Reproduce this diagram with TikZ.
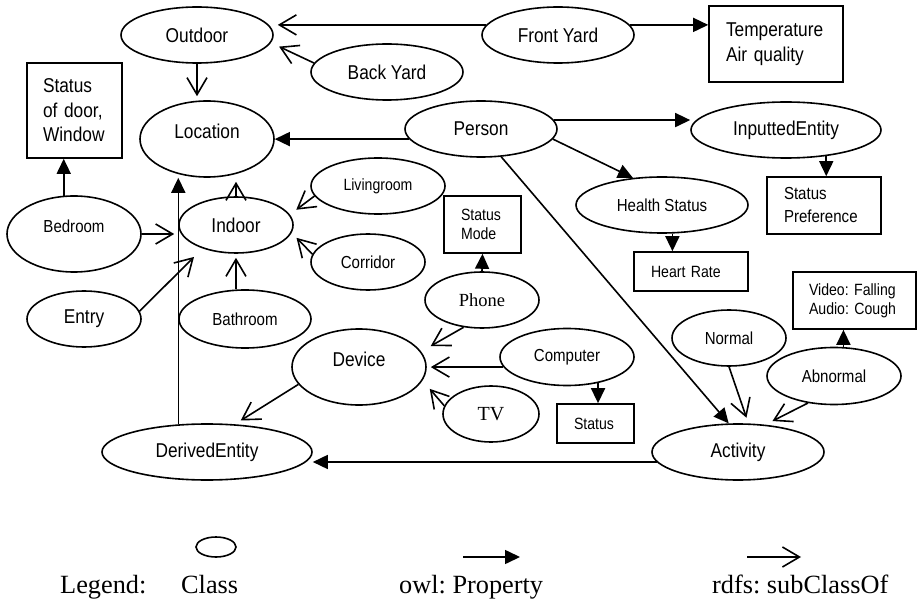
\documentclass[tikz,border=0pt]{standalone}
\usepackage{fontspec}
\setmainfont{Liberation Sans}[FakeStretch=0.865]
\newfontfamily\serf{Liberation Serif}
\usetikzlibrary{shapes.geometric,arrows.meta}

\newcommand\lbig{\fontsize{20}{24.5}\selectfont}
\newcommand\lmid{\fontsize{17.4}{23}\selectfont}
\newcommand\lsml{\fontsize{16.3}{19}\selectfont}

\tikzset{
  cls/.style 2 args={ellipse, draw, line width=1.6pt, inner sep=0pt,
    minimum width=#1pt, minimum height=#2pt, font=\lbig},
  tall/.style={text depth=16pt},
  attr/.style={draw, rectangle, line width=1.6pt, inner xsep=17pt, inner ysep=0pt, align=left},
  prop/.style={line width=1.6pt, -{Triangle[length=15pt,width=14pt]}},
  sub/.style={line width=1.6pt, -{Straight Barb[length=17pt,width=20pt]}, shorten >=4pt},
  legend/.style={anchor=base west, inner sep=0pt, font=\serf\fontsize{26.3}{30}\selectfont}
}

\begin{document}
\frenchspacing
\begin{tikzpicture}[x=1pt, y=-1pt]
    \useasboundingbox (0,0) rectangle (917,601);

    % classes
    \node (outdoor) at (197,35) [cls={152}{56}] {Outdoor};
    \node (frontyard) at (558,35) [cls={152}{56}] {Front Yard};
    \node (backyard) at (387,72) [cls={152}{56}] {Back Yard};
    \node (location) at (207,139) [cls={134}{76}, tall] {Location};
    \node (person) at (481,129) [cls={152}{56}] {Person};
    \node (inputted) at (786,130) [cls={190}{56}] {InputtedEntity};
    \node (health) at (662,205) [cls={172}{56}, font=\lmid] {Health Status};
    \node (bedroom) at (74,234) [cls={134}{76}, tall, font=\lmid] {Bedroom};
    \node (indoor) at (236,225) [cls={114}{56}] {Indoor};
    \node (living) at (378,186) [cls={134}{56}, font=\lsml] {Livingroom};
    \node (corridor) at (368,262) [cls={114}{56}, font=\lmid] {Corridor};
    \node (entry) at (84,319) [cls={114}{56}] {Entry};
    \node (bathroom) at (245,319) [cls={132}{58}, font=\lmid] {Bathroom};
    \node (phone) at (482,300) [cls={114}{56}, font=\serf\fontsize{18.5}{22}\selectfont] {Phone};
    \node (device) at (359,367) [cls={134}{76}, tall] {Device};
    \node (computer) at (567,357) [cls={134}{57}, font=\lmid] {Computer};
    \node (tv) at (491,414) [cls={96}{56}, font=\serf\fontsize{20}{24}\selectfont] {TV};
    \node (derived) at (207,452) [cls={210}{56}] {DerivedEntity};
    \node (normal) at (729,338) [cls={114}{56}, font=\lmid] {Normal};
    \node (abnormal) at (834,376) [cls={134}{57}, font=\lmid] {Abnormal};
    \node (activity) at (738,452) [cls={172}{56}] {Activity};

    % data boxes
    \node (doorbox) at (74.5,110.5) [attr, inner xsep=16pt, text width=63pt, minimum height=95pt, font=\lbig] {Status\\of door,\\Window};
    \node (tempbox) at (776,44) [attr, text width=100pt, minimum height=76pt, font=\lbig] {Temperature\\Air quality};
    \node (prefbox) at (824,205.5) [attr, text width=80pt, minimum height=57pt, font=\lmid] {Status\\Preference};
    \node (modebox) at (482.5,224.5) [attr, text width=43pt, minimum height=57pt, font=\lsml] {Status\\Mode};
    \node (heartbox) at (691,271.5) [attr, text width=80pt, minimum height=39pt, font=\lsml] {Heart Rate};
    \node (videobox) at (854.5,300.5) [attr, inner xsep=16pt, text width=91pt, minimum height=57pt, font=\lsml] {Video: Falling\\Audio: Cough};
    \node (statusbox) at (595.5,423.5) [attr, text width=43pt, minimum height=39pt, font=\lsml] {Status};

    % connectors
    \draw[sub] (frontyard.172) -- (outdoor.east |- frontyard.172);
    \draw[prop] (frontyard.8) -- (tempbox.west |- frontyard.8);
    \draw[sub, shorten >=9pt] (backyard.173) -- (outdoor.-6);
    \draw[sub] (outdoor.south) -- (outdoor.south |- location.north);
    \draw[prop] (person.188) -- (location.east |- person.188);
    \draw[prop] (person.7) -- (inputted.west |- person.7);
    \draw[prop] (person.-8) -- (health.137);
    \draw[prop] (person.-54) -- (activity.108);
    \draw[prop] (inputted.-33) -- (inputted.-33 |- prefbox.north);
    \draw[prop] (health.-70) -- (health.-70 |- heartbox.north);
    \draw[prop] (bedroom.105) -- (bedroom.105 |- doorbox.south);
    \draw[sub] (bedroom.east) -- (indoor.west |- bedroom.east);
    \draw[prop] (derived.136) -- (derived.136 |- location.south);
    \draw[sub] (indoor.north) -- (indoor.north |- location.south);
    \draw[sub, shorten >=12pt] (entry.8) -- (indoor.215);
    \draw[sub] (bathroom.107) -- (bathroom.107 |- indoor.south);
    \draw[sub, shorten >=8pt] (living.189) -- (indoor.11);
    \draw[sub, shorten >=7pt] (corridor.172) -- (indoor.-8);
    \draw[prop] (phone.north) -- (modebox.south);
    \draw[sub, shorten >=11pt] (phone.236) -- (device.14);
    \draw[sub] (computer.189) -- (device.east |- computer.189);
    \draw[sub, shorten >=11pt] (tv.170) -- (device.-12);
    \draw[prop] (computer.-40) -- (computer.-40 |- statusbox.north);
    \draw[sub, shorten >=7pt] (device.196) -- (derived.45);
    \draw[prop] (activity.187) -- (derived.east |- activity.187);
    \draw[sub, shorten >=6pt] (normal.south) -- (activity.70);
    \draw[sub, shorten >=8pt] (abnormal.226) -- (activity.45);
    \draw[prop] (abnormal.72) -- (abnormal.72 |- videobox.south);

    % legend
    \node (legclass) at (216,547) [ellipse, draw, line width=1.6pt, inner sep=0pt, minimum width=40pt, minimum height=20pt] {};
    \coordinate (propa) at (463,557);
    \coordinate (propb) at (520,557);
    \coordinate (suba) at (747,557);
    \coordinate (subb) at (801,557);
    \draw[prop] (propa) -- (propb);
    \draw[sub, shorten >=0pt] (suba) -- (subb);
    \node (legtitle) at (60,593) [legend] {Legend:};
    \node (legcls) at (181,593) [legend] {Class};
    \node (legprop) at (399,593) [legend] {owl: Property};
    \node (legsub) at (712,593) [legend] {rdfs: subClassOf};
\end{tikzpicture}
\end{document}
